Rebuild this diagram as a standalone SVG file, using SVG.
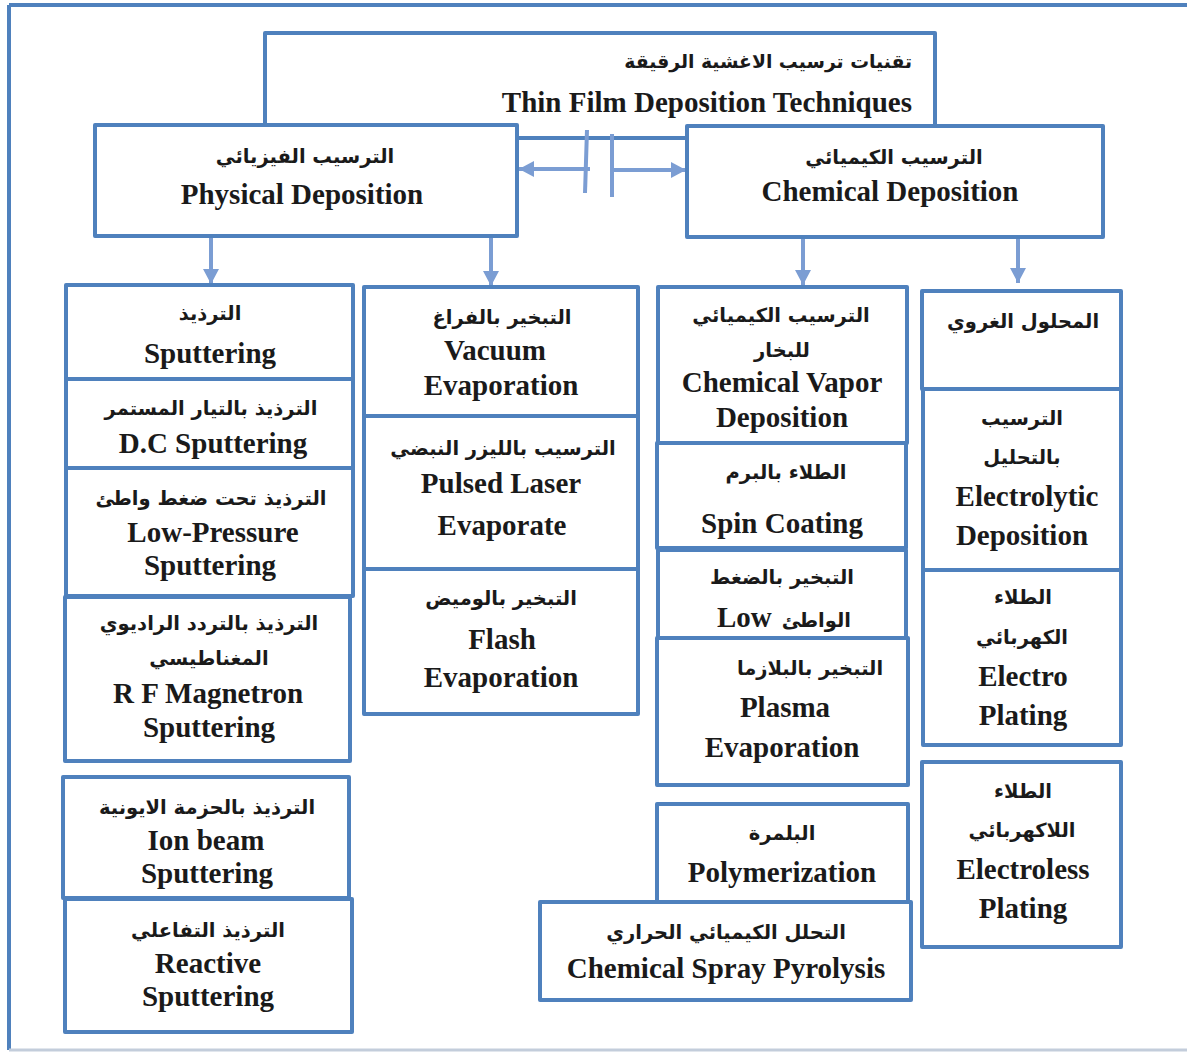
<svg xmlns="http://www.w3.org/2000/svg" width="1187" height="1052" viewBox="0 0 1187 1052">
<style>
.box{fill:#ffffff;stroke:#4f81bd;stroke-width:4;stroke-linejoin:round}
.en{font-family:"Liberation Serif","Times New Roman",serif;font-weight:bold;font-size:29px;fill:#1a1a1a;text-anchor:middle}
.ar{font-family:"DejaVu Sans","Noto Sans",sans-serif;font-weight:bold;font-size:19.5px;fill:#1a1a1a;text-anchor:middle}
.con{stroke:#7b9dd3;stroke-width:4;fill:none}
.frame{stroke:#4f81bd;stroke-width:4;fill:none}
</style>
<defs>
<marker id="ah" markerUnits="userSpaceOnUse" markerWidth="18" markerHeight="18" refX="15" refY="8" orient="auto">
<path d="M0,0 L15,8 L0,16 Z" fill="#7b9dd3"/>
</marker>
</defs>
<rect x="0" y="0" width="1187" height="1052" fill="#ffffff"/>
<g id="frame">
<line class="frame" x1="9" y1="5" x2="1187" y2="5"/>
<line class="frame" x1="9" y1="5" x2="9" y2="1050"/>
<line x1="9" y1="1050" x2="1187" y2="1050" stroke="#c3cddb" stroke-width="3"/>
</g>
<g id="n-title">
<rect class="box" x="265" y="33" width="670" height="105"/>
<text class="ar" x="912" y="68" style="text-anchor:end;font-size:18.8px">تقنيات ترسيب الاغشية الرقيقة</text>
<text class="en" x="912" y="112" style="text-anchor:end">Thin Film Deposition Techniques</text>
</g>
<g id="connectors">
<line class="con" x1="590" y1="169" x2="519" y2="169" marker-end="url(#ah)"/>
<line class="con" x1="612" y1="170" x2="686" y2="170" marker-end="url(#ah)"/>
<line class="con" x1="587" y1="130" x2="585" y2="193"/>
<line class="con" x1="612" y1="134" x2="612" y2="197"/>
<line class="con" x1="211" y1="238" x2="211" y2="284" marker-end="url(#ah)"/>
<line class="con" x1="491" y1="238" x2="491" y2="286" marker-end="url(#ah)"/>
<line class="con" x1="803" y1="239" x2="803" y2="285" marker-end="url(#ah)"/>
<line class="con" x1="1018" y1="239" x2="1018" y2="283" marker-end="url(#ah)"/>
</g>
<g id="n-physical">
<rect class="box" x="95" y="125" width="422" height="111"/>
<text class="ar" x="305" y="163">الترسيب الفيزيائي</text>
<text class="en" x="302" y="204">Physical Deposition</text>
</g>
<g id="n-chemical">
<rect class="box" x="687" y="126" width="416" height="111"/>
<text class="ar" x="894" y="164">الترسيب الكيميائي</text>
<text class="en" x="890" y="201">Chemical Deposition</text>
</g>
<g id="n-sputtering">
<rect class="box" x="66" y="285" width="287" height="94"/>
<text class="ar" x="210" y="320">الترذيذ</text>
<text class="en" x="210" y="363">Sputtering</text>
</g>
<g id="n-dc">
<rect class="box" x="66" y="379" width="287" height="89"/>
<text class="ar" x="211" y="415">الترذيذ بالتيار المستمر</text>
<text class="en" x="213" y="453">D.C Sputtering</text>
</g>
<g id="n-lowpressure">
<rect class="box" x="66" y="468" width="287" height="128"/>
<text class="ar" x="211" y="505">الترذيذ تحت ضغط واطئ</text>
<text class="en" x="213" y="542">Low-Pressure</text>
<text class="en" x="210" y="575">Sputtering</text>
</g>
<g id="n-rf">
<rect class="box" x="65" y="597" width="285" height="164"/>
<text class="ar" x="209" y="630">الترذيذ بالتردد الراديوي</text>
<text class="ar" x="209" y="665">المغناطيسي</text>
<text class="en" x="208" y="703">R F Magnetron</text>
<text class="en" x="209" y="737">Sputtering</text>
</g>
<g id="n-ionbeam">
<rect class="box" x="63" y="777" width="286" height="121"/>
<text class="ar" x="207" y="814">الترذيذ بالحزمة الايونية</text>
<text class="en" x="206" y="850">Ion beam</text>
<text class="en" x="207" y="883">Sputtering</text>
</g>
<g id="n-reactive">
<rect class="box" x="65" y="899" width="287" height="133"/>
<text class="ar" x="208" y="937">الترذيذ التفاعلي</text>
<text class="en" x="208" y="973">Reactive</text>
<text class="en" x="208" y="1006">Sputtering</text>
</g>
<g id="n-vacuum">
<rect class="box" x="364" y="287" width="274" height="129"/>
<text class="ar" x="502" y="324">التبخير بالفراغ</text>
<text class="en" x="495" y="360">Vacuum</text>
<text class="en" x="501" y="395">Evaporation</text>
</g>
<g id="n-pulsed">
<rect class="box" x="364" y="416" width="274" height="153"/>
<text class="ar" x="503" y="455">الترسيب بالليزر النبضي</text>
<text class="en" x="501" y="493">Pulsed Laser</text>
<text class="en" x="502" y="535">Evaporate</text>
</g>
<g id="n-flash">
<rect class="box" x="364" y="569" width="274" height="145"/>
<text class="ar" x="501" y="605">التبخير بالوميض</text>
<text class="en" x="502" y="649">Flash</text>
<text class="en" x="501" y="687">Evaporation</text>
</g>
<g id="n-cvd">
<rect class="box" x="658" y="287" width="249" height="156"/>
<text class="ar" x="781" y="322">الترسيب الكيميائي</text>
<text class="ar" x="782" y="357">للبخار</text>
<text class="en" x="782" y="392">Chemical Vapor</text>
<text class="en" x="782" y="427">Deposition</text>
</g>
<g id="n-spin">
<rect class="box" x="657" y="443" width="249" height="105"/>
<text class="ar" x="786" y="479">الطلاء بالبرم</text>
<text class="en" x="782" y="533">Spin Coating</text>
</g>
<g id="n-lowpressure-evap">
<rect class="box" x="658" y="550" width="248" height="88"/>
<text class="ar" x="782" y="584">التبخير بالضغط</text>
<text class="en" x="717" y="627" style="text-anchor:start">Low</text>
<text class="ar" x="851" y="627" style="text-anchor:end">الواطئ</text>
</g>
<g id="n-plasma">
<rect class="box" x="657" y="638" width="251" height="147"/>
<text class="ar" x="810" y="675">التبخير بالبلازما</text>
<text class="en" x="785" y="717">Plasma</text>
<text class="en" x="782" y="757">Evaporation</text>
</g>
<g id="n-polymer">
<rect class="box" x="657" y="804" width="251" height="98"/>
<text class="ar" x="782" y="840">البلمرة</text>
<text class="en" x="782" y="882">Polymerization</text>
</g>
<g id="n-spray">
<rect class="box" x="540" y="902" width="371" height="98"/>
<text class="ar" x="726" y="939">التحلل الكيميائي الحراري</text>
<text class="en" x="726" y="978">Chemical Spray Pyrolysis</text>
</g>
<g id="n-colloid">
<rect class="box" x="922" y="291" width="199" height="98"/>
<text class="ar" x="1023" y="328">المحلول الغروي</text>
</g>
<g id="n-electrolytic">
<rect class="box" x="923" y="389" width="198" height="181"/>
<text class="ar" x="1022" y="425">الترسيب</text>
<text class="ar" x="1022" y="464">بالتحليل</text>
<text class="en" x="1027" y="506">Electrolytic</text>
<text class="en" x="1022" y="545">Deposition</text>
</g>
<g id="n-electroplating">
<rect class="box" x="923" y="570" width="198" height="175"/>
<text class="ar" x="1023" y="604">الطلاء</text>
<text class="ar" x="1022" y="644">الكهربائي</text>
<text class="en" x="1023" y="686">Electro</text>
<text class="en" x="1023" y="725">Plating</text>
</g>
<g id="n-electroless">
<rect class="box" x="922" y="762" width="199" height="185"/>
<text class="ar" x="1023" y="798">الطلاء</text>
<text class="ar" x="1022" y="837">اللاكهربائي</text>
<text class="en" x="1023" y="879">Electroless</text>
<text class="en" x="1023" y="918">Plating</text>
</g>
</svg>
